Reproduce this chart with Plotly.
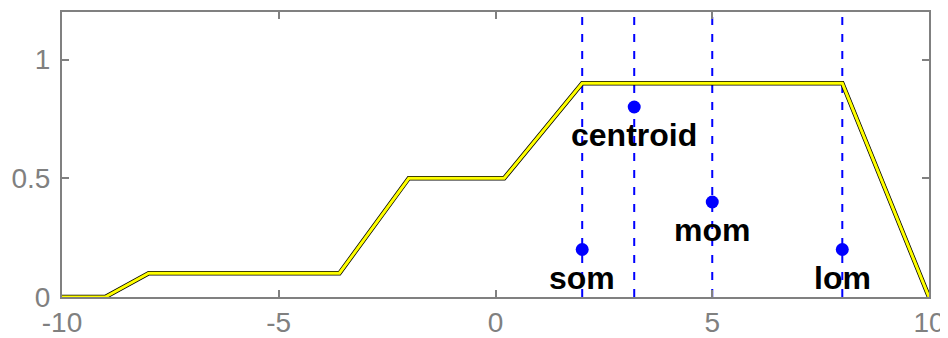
import plotly.graph_objects as go

# aggregated membership curve (vertices)
curve_x = [-10, -9, -8, -3.6, -2, 0.2, 2, 8, 10]
curve_y = [0, 0, 0.1, 0.1, 0.5, 0.5, 0.9, 0.9, 0]

# defuzzified values
defuzz_names = ["som", "centroid", "mom", "lom"]
defuzz_x = [2, 3.2, 5, 8]
defuzz_y = [0.2, 0.8, 0.4, 0.2]

x_ticks = [-10, -5, 0, 5, 10]
y_ticks = [0, 0.5, 1]
y_tick_text = ["0", "0.5", "1"]
y_max = 1.2

fig = go.Figure()

# dashed vertical lines
for xv in defuzz_x:
    fig.add_trace(go.Scatter(
        x=[xv, xv], y=[0, y_max], mode="lines",
        line=dict(color="#0000ff", width=2, dash="8px,9px"),
        hoverinfo="skip", showlegend=False))

# curve: black outline under yellow
fig.add_trace(go.Scatter(x=curve_x, y=curve_y, mode="lines",
                         line=dict(color="black", width=4.5),
                         showlegend=False))
fig.add_trace(go.Scatter(x=curve_x, y=curve_y, mode="lines",
                         line=dict(color="#ffff00", width=3),
                         showlegend=False))

# markers
fig.add_trace(go.Scatter(x=defuzz_x, y=defuzz_y, mode="markers",
                         marker=dict(color="#0000ff", size=13),
                         showlegend=False))

for name, xv, yv in zip(defuzz_names, defuzz_x, defuzz_y):
    fig.add_annotation(x=xv, y=yv, text="<b>%s</b>" % name, showarrow=False,
                       yshift=-28, font=dict(family="Liberation Sans", size=32, color="black"))

axis_common = dict(showline=True, linecolor="#808080", linewidth=2, mirror="ticks",
                   ticks="inside", ticklen=7, tickwidth=2, tickcolor="#808080",
                   showgrid=False, zeroline=False, automargin=False,
                   tickfont=dict(family="Liberation Sans", size=28, color="#808080"))

fig.update_xaxes(range=[-10, 10], tickvals=x_ticks, ticktext=[str(v) for v in x_ticks],
                 ticklabelstandoff=-1, **axis_common)
fig.update_yaxes(range=[0, y_max], tickvals=y_ticks, ticktext=y_tick_text,
                 ticklabelstandoff=4, **axis_common)

# page body has an 8px margin, so the figure is sized to fit the 948x338 window
fig.update_layout(width=940, height=330, margin=dict(l=54, r=19, t=4, b=41),
                  plot_bgcolor="white", paper_bgcolor="white")

fig.write_html("out.html")
